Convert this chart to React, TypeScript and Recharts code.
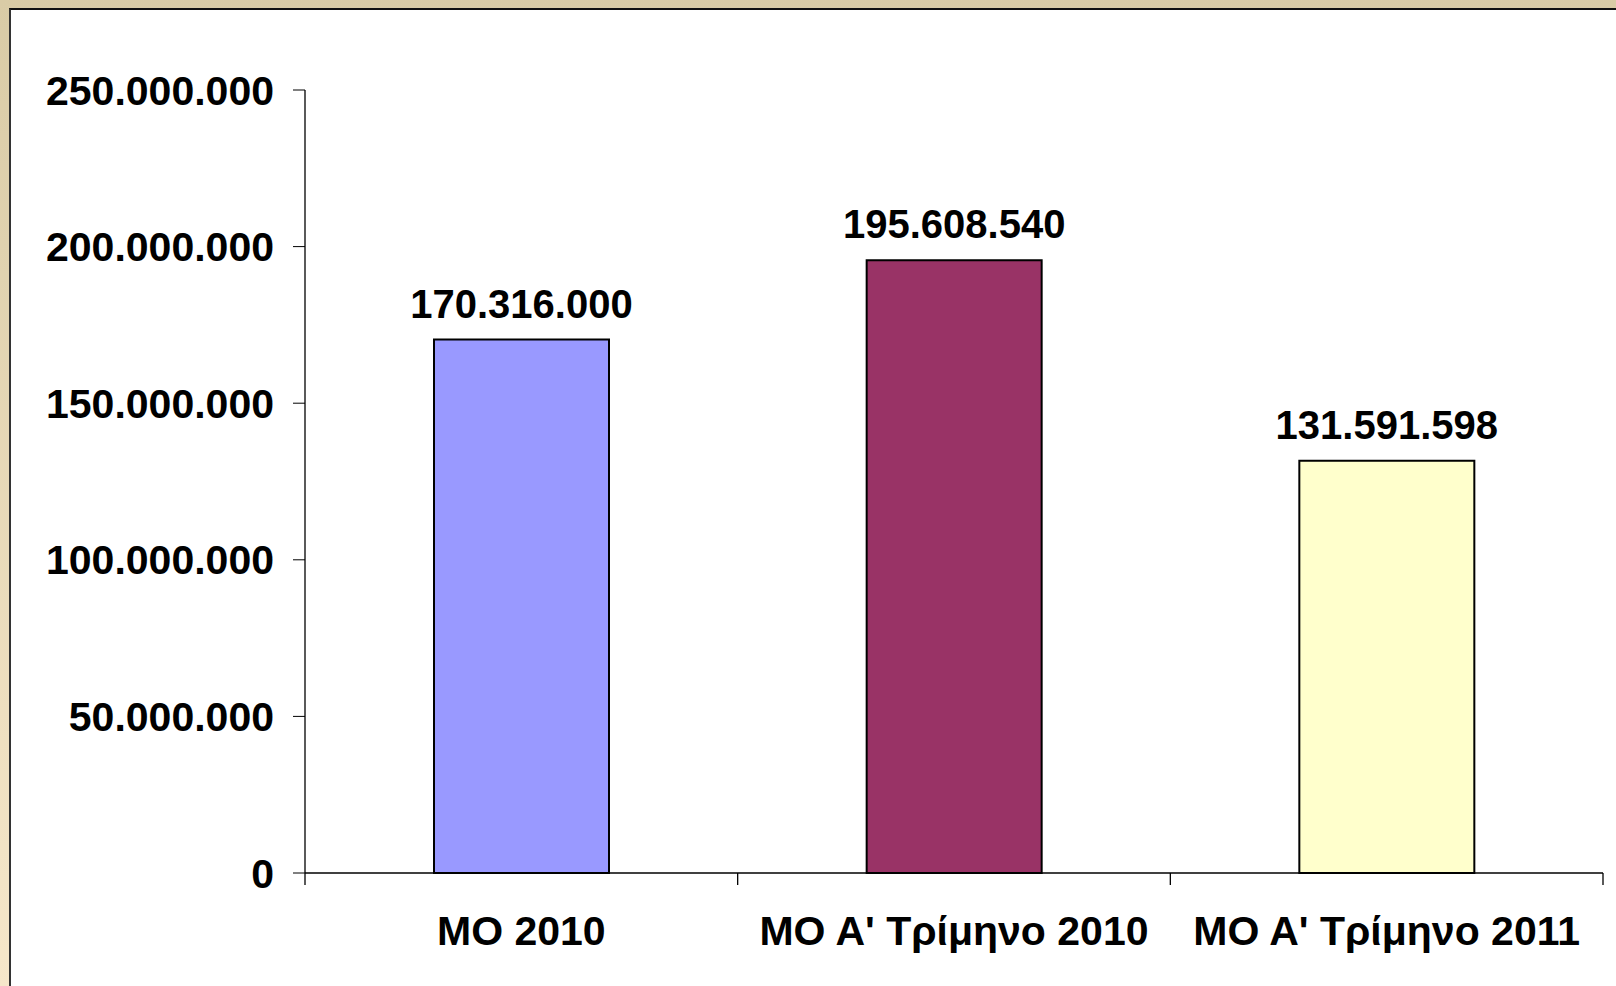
import React from "react";
import { BarChart, Bar, XAxis, YAxis, Cell, LabelList } from "recharts";

const categories = ["MO 2010", "MO A' Τρίμηνο 2010", "MO A' Τρίμηνο 2011"];
const values = [170316000, 195608540, 131591598];
const barColors = ["#9999FF", "#993366", "#FFFFCC"];
const yTicks = [0, 50000000, 100000000, 150000000, 200000000, 250000000];

const data = categories.map((name, i) => ({ name, value: values[i] }));

const fmt = (v: number) => String(v).replace(/\B(?=(\d{3})+(?!\d))/g, ".");

const font = "'Liberation Sans', Arial, sans-serif";

const W = 1616;
const H = 986;
const M = { top: 90, right: 13, left: 0, bottom: 0 };
const Y_W = 305;
const band = (W - M.left - M.right - Y_W) / categories.length;

const CatTick = (props: any) => {
  const { x, y, payload, index } = props;
  const axisY = y - 43;
  return (
    <g>
      <line x1={x - band / 2} x2={x - band / 2} y1={axisY} y2={axisY + 12} stroke="#000" strokeWidth={1.3} />
      {index === categories.length - 1 && (
        <line x1={x + band / 2} x2={x + band / 2} y1={axisY} y2={axisY + 12} stroke="#000" strokeWidth={1.3} />
      )}
      <text
        x={x}
        y={y}
        dy={29}
        textAnchor="middle"
        fontSize={41}
        fontWeight="bold"
        fill="#000"
        fontFamily={font}
      >
        {payload.value}
      </text>
    </g>
  );
};

export default function App() {
  return (
    <div
      style={{
        position: "absolute",
        left: 0,
        top: 0,
        width: W,
        height: H,
        background: "linear-gradient(#d9cba6, #f6e7ca)",
        overflow: "hidden",
      }}
    >
      <div
        style={{
          position: "absolute",
          left: 9,
          top: 8,
          right: 0,
          bottom: 0,
          background: "#fff",
          borderTop: "2px solid #111",
          borderLeft: "2px solid #333",
        }}
      />
      <div style={{ position: "absolute", left: 0, top: 0 }}>
        <BarChart width={W} height={H} data={data} margin={M}>
          <XAxis
            dataKey="name"
            height={113}
            tickLine={false}
            tickSize={6}
            tickMargin={37}
            axisLine={{ stroke: "#000", strokeWidth: 1.3 }}
            tick={<CatTick />}
            interval={0}
          />
          <YAxis
            type="number"
            domain={[0, 250000000]}
            ticks={yTicks}
            width={Y_W}
            tickSize={12}
            tickMargin={19}
            tickFormatter={fmt}
            axisLine={{ stroke: "#000", strokeWidth: 1.3 }}
            tickLine={{ stroke: "#000" }}
            tick={{ fontSize: 41, fontWeight: "bold", fill: "#000", fontFamily: font }}
          />
          <Bar
            dataKey="value"
            barSize={175}
            stroke="#000"
            strokeWidth={2}
            isAnimationActive={false}
          >
            {data.map((_, i) => (
              <Cell key={`c-${i}`} fill={barColors[i]} />
            ))}
            <LabelList
              dataKey="value"
              position="top"
              offset={22}
              formatter={(v: any) => fmt(Number(v))}
              style={{ fontSize: 40, fontWeight: "bold", fill: "#000", fontFamily: font }}
            />
          </Bar>
        </BarChart>
      </div>
    </div>
  );
}
